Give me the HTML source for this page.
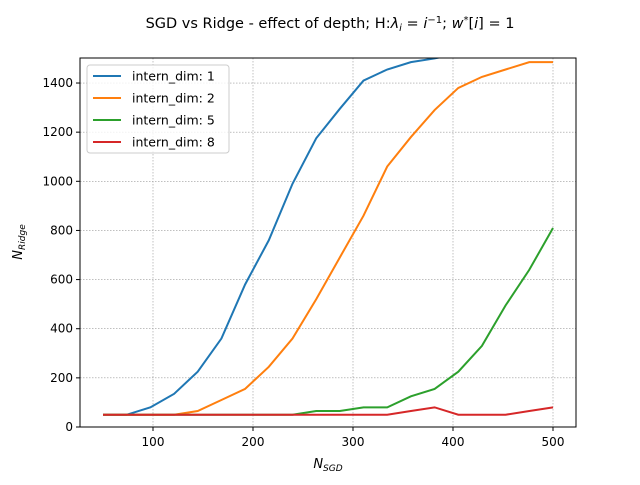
<!DOCTYPE html>
<html><head><meta charset="utf-8"><style>
body{margin:0;background:#fff;font-family:"Liberation Sans","DejaVu Sans",sans-serif}
</style></head><body>
<svg id="chart" width="640" height="480" xmlns="http://www.w3.org/2000/svg" font-family="DejaVu Sans, Liberation Sans, sans-serif">
<rect width="640" height="480" fill="#fff"/>
<text x="330" y="28" text-anchor="middle" font-size="14.5">SGD vs Ridge - effect of depth; H:<tspan font-style="italic">λ</tspan><tspan font-size="10" dy="3" font-style="italic">i</tspan><tspan dy="-3"> = </tspan><tspan font-style="italic">i</tspan><tspan font-size="10" dy="-5">−1</tspan><tspan dy="5">; </tspan><tspan font-style="italic">w</tspan><tspan font-size="10" dy="-5">*</tspan><tspan dy="5">[</tspan><tspan font-style="italic">i</tspan>] = 1</text>
<defs><clipPath id="plotclip"><rect x="80" y="58" width="496" height="369"/></clipPath></defs>
<g id="grid"></g>
<g id="series" clip-path="url(#plotclip)"></g>
<rect x="80" y="58" width="496" height="369" fill="none" stroke="#000" stroke-width="1"/>
<g id="ticks" font-size="12"></g>
<text x="328" y="468" text-anchor="middle" font-size="13" font-style="italic">N<tspan font-size="9" dy="3">SGD</tspan></text>
<text transform="translate(22,242) rotate(-90)" text-anchor="middle" font-size="13" font-style="italic">N<tspan font-size="9" dy="3">Ridge</tspan></text>
<g id="legend">
<rect x="87" y="65" width="142" height="88" rx="3" fill="#fff" fill-opacity="0.8" stroke="#ccc"/>
</g>
</svg>
<script>
const xs=[50,73.7,97.4,121.1,144.7,168.4,192.1,215.8,239.5,263.2,286.8,310.5,334.2,357.9,381.6,405.3,428.9,452.6,476.3,500];
const s1=[50,50,80,135,225,360,580,760,990,1175,1295,1410,1455,1485,1500,1520,1540,1560,1580,1600];
const s2=[50,50,50,50,65,110,155,245,360,520,690,860,1060,1180,1290,1380,1425,1455,1485,1485];
const s5=[50,50,50,50,50,50,50,50,50,65,65,80,80,125,155,225,330,495,640,810];
const s8=[50,50,50,50,50,50,50,50,50,50,50,50,50,65,80,50,50,50,65,80];
const seriesNames=["intern_dim: 1","intern_dim: 2","intern_dim: 5","intern_dim: 8"];
const xTicks=[100,200,300,400,500];
const yTicks=[0,200,400,600,800,1000,1200,1400];
const colors=["#1f77b4","#ff7f0e","#2ca02c","#d62728"];
const X=v=>53+v*1.0;
const Y=v=>427-v*0.2457;
const NS="http://www.w3.org/2000/svg";
function mk(t,a,p){const e=document.createElementNS(NS,t);for(const k in a)e.setAttribute(k,a[k]);p.appendChild(e);return e;}
const grid=document.getElementById('grid'),ticks=document.getElementById('ticks');
xTicks.forEach(v=>{
 const g=mk('line',{x1:X(v),x2:X(v),y1:58,y2:427,stroke:'#999','stroke-width':0.6,'stroke-dasharray':'1.5,1.5'},grid);
 
 
 mk('line',{x1:X(v),x2:X(v),y1:427,y2:431,stroke:'#000'},ticks);
 const t=mk('text',{x:X(v),y:446,'text-anchor':'middle'},ticks);t.textContent=v;
 
 
});
yTicks.forEach(v=>{
 const g=mk('line',{x1:80,x2:576,y1:Y(v),y2:Y(v),stroke:'#999','stroke-width':0.6,'stroke-dasharray':'1.5,1.5'},grid);
 
 
 mk('line',{x1:76,x2:80,y1:Y(v),y2:Y(v),stroke:'#000'},ticks);
 const t=mk('text',{x:73,y:Y(v)+4,'text-anchor':'end'},ticks);t.textContent=v;
 
 
});
const ser=document.getElementById('series');
[s1,s2,s5,s8].forEach((s,i)=>{
 const p=mk('polyline',{points:s.map((v,j)=>X(xs[j])+','+Y(v)).join(' '),fill:'none',stroke:colors[i],'stroke-width':2},ser);
 
 
});
const lg=document.getElementById('legend');
seriesNames.forEach((n,i)=>{
 const y=76+i*22;
 mk('line',{x1:93,x2:121,y1:y,y2:y,stroke:colors[i],'stroke-width':2},lg);
 const t=mk('text',{x:132,y:y+4.5,'font-size':12.5},lg);t.textContent=n;
 
 
});
</script>
</body></html>
